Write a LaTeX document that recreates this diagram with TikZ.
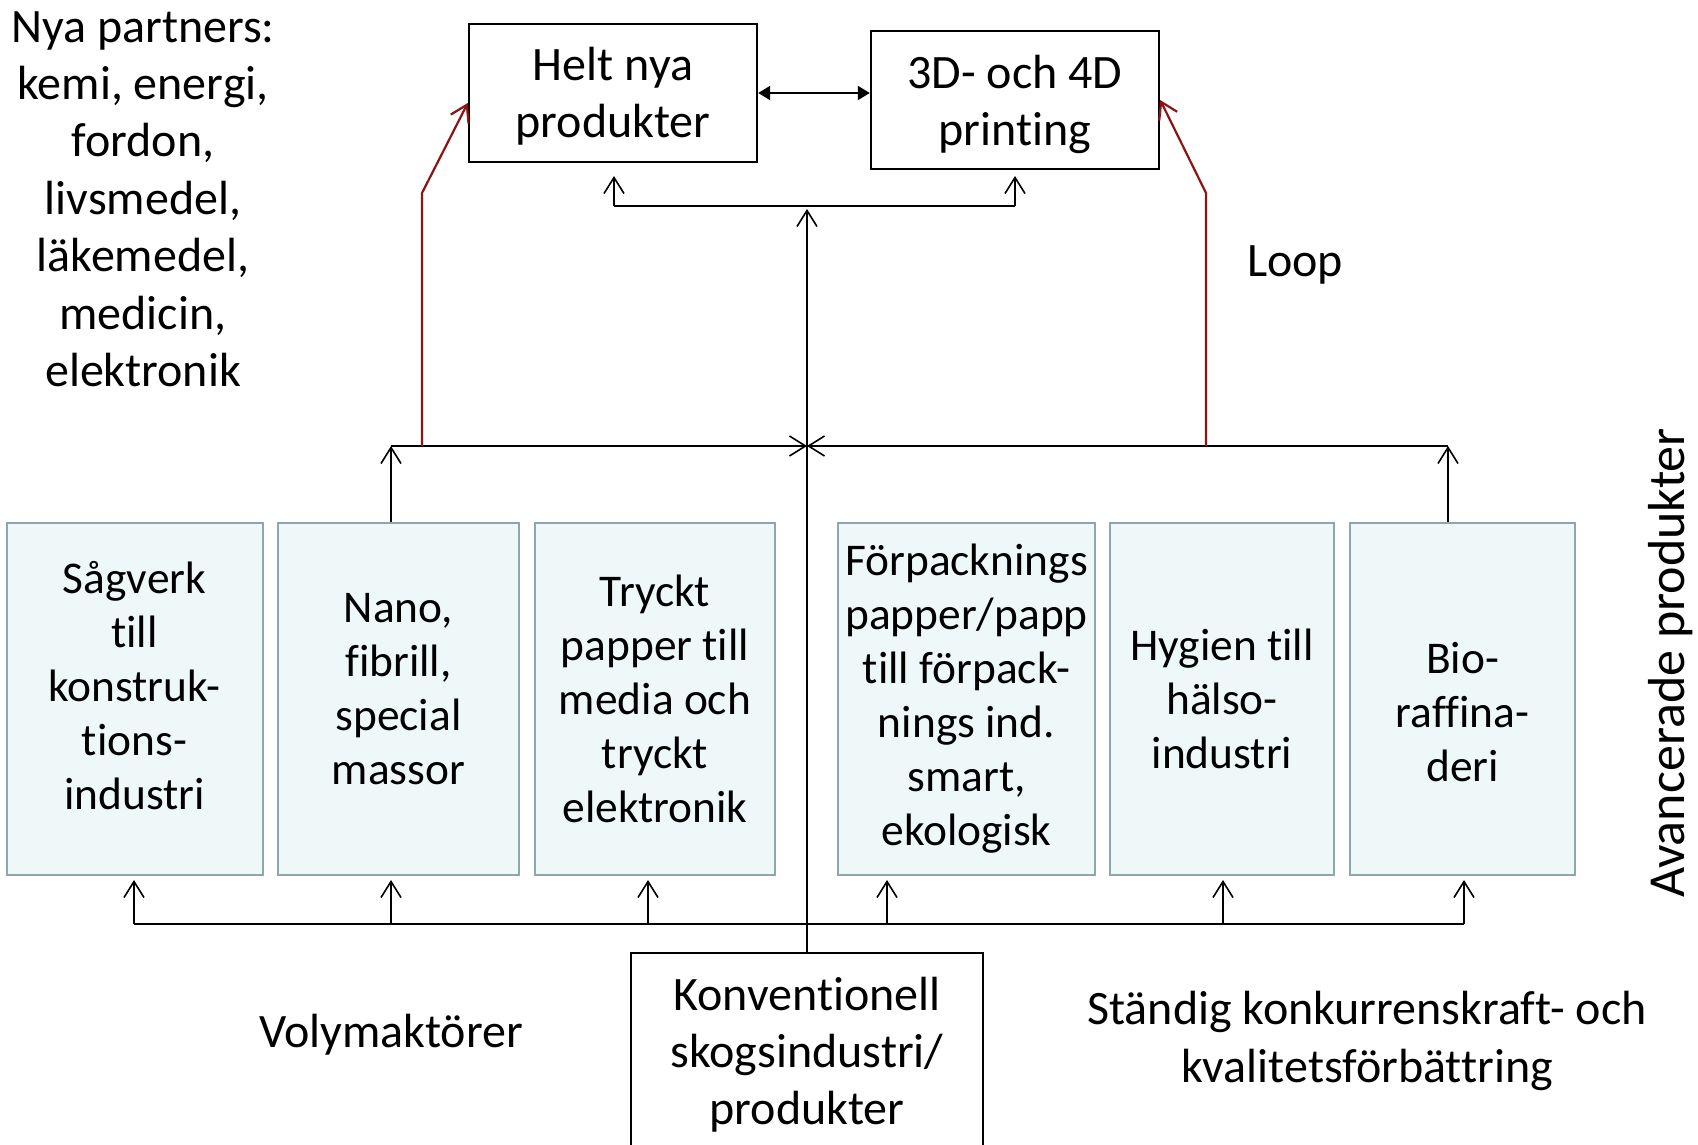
\documentclass[tikz,border=0pt]{standalone}
\usepackage{fontspec}
\setmainfont{Carlito}[Ligatures=NoCommon]
\usetikzlibrary{arrows.meta}
\definecolor{boxfill}{RGB}{239,248,248}
\definecolor{boxedge}{RGB}{142,167,172}
\definecolor{loopred}{RGB}{140,20,20}

\begin{document}
\begin{tikzpicture}[x=0.5pt,y=-0.5pt,
  every node/.style={font=\fontsize{24}{27}\selectfont, align=center, inner sep=0pt},
  sector/.style={draw=boxedge, fill=boxfill, line width=1pt, minimum height=176pt},
  sectortext/.style={font=\fontsize{22.7}{27}\selectfont},
  target/.style={draw, line width=1.2pt, minimum width=144pt, minimum height=69pt},
  targettext/.style={font=\fontsize{24}{28.5}\selectfont},
  conn/.style={line width=0.8pt, -{Straight Barb[length=8pt,width=10pt]}},
  loopline/.style={draw=loopred, line width=1.1pt, -{Straight Barb[length=8pt,width=10pt]}}]

\useasboundingbox (0,0) rectangle (1698,1145);

\node[target] (helt) at (613,93) {};
\node[target] (print) at (1015,100) {};
\node[targettext] (heltt) at (613,96) {Helt nya\\produkter};
\node[targettext] (printt) at (1015,104) {3D- och 4D\\printing};
\draw[line width=1pt, {Triangle[length=6pt,width=7pt]}-{Triangle[length=6pt,width=7pt]}] (helt.east) -- (helt.east -| print.west);

\node[sector, minimum width=128pt] (b1) at (134.5,699) {};
\node[sector, minimum width=120.5pt] (b2) at (398.5,699) {};
\node[sector, minimum width=120pt] (b3) at (655,699) {};
\node[sector, minimum width=128.5pt] (b4) at (966.5,699) {};
\node[sector, minimum width=112pt] (b5) at (1222,699) {};
\node[sector, minimum width=112.5pt] (b6) at (1462.5,699) {};
\node[sectortext] (t1) at ([yshift=6.5pt]b1) {Sågverk\\till\\konstruk-\\tions-\\industri};
\node[sectortext] (t2) at ([yshift=5pt]b2) {Nano,\\fibrill,\\special\\massor};
\node[sectortext] (t3) at (b3) {Tryckt\\papper till\\media och\\tryckt\\elektronik};
\node[sectortext] (t4) at (b4) {Förpacknings\\papper/papp\\till förpack-\\nings ind.\\smart,\\ekologisk};
\node[sectortext] (t5) at (b5) {Hygien till\\hälso-\\industri};
\node[sectortext] (t6) at ([yshift=-6.5pt]b6) {Bio-\\raffina-\\deri};

\node[draw, line width=1.2pt, minimum width=176pt, minimum height=99pt] (konv) at (807,1052) {};
\node[targettext] (konvt) at (807,1055) {Konventionell\\skogsindustri/\\produkter};

\coordinate (hub) at (807,446);
\coordinate (cl) at (391,446);
\coordinate (cr) at (1448,446);
\coordinate (top) at (807,209);
\coordinate (tl) at (614,206);
\coordinate (tr) at (1015,206);
\coordinate (rl) at (422,446);
\coordinate (rr) at (1206,446);

% upp till nya produkter
\draw[conn] (konv.north) -- (top);
\draw[line width=0.8pt] (tl) -- (tr);
\draw[conn] (tl) -- (614,176);
\draw[conn] (tr) -- (1015,176);

\draw[conn] (cl |- b2.north) -- (cl);
\draw[conn] (cr |- b6.north) -- (cr);
\draw[conn] (cl) -- (hub);
\draw[conn] (cr) -- (hub);

% loop
\draw[loopline] (rl) -- (422,193) -- ([yshift=-5pt]helt.west);
\draw[loopline] (rr) -- (1206,193) -- (print.east);

% volym
\coordinate (d1) at (134,924);
\coordinate (d2) at (391,924);
\coordinate (d3) at (648,924);
\coordinate (d4) at (887,924);
\coordinate (d5) at (1223,924);
\coordinate (d6) at (1464,924);
\draw[line width=0.8pt] (d1) -- (d6);
\draw[conn] (d1) -- ([yshift=-2pt]d1 |- b1.south);
\draw[conn] (d2) -- ([yshift=-2pt]d2 |- b2.south);
\draw[conn] (d3) -- ([yshift=-2pt]d3 |- b3.south);
\draw[conn] (d4) -- ([yshift=-2pt]d4 |- b4.south);
\draw[conn] (d5) -- ([yshift=-2pt]d5 |- b5.south);
\draw[conn] (d6) -- ([yshift=-2pt]d6 |- b6.south);

\node[font=\fontsize{24}{28.7}\selectfont] (partners) at (143,199) {Nya partners:\\kemi, energi,\\fordon,\\livsmedel,\\läkemedel,\\medicin,\\elektronik};
\node (looptext) at (1295,265) {Loop};
\node (volym) at (391,1035) {Volymaktörer};
\node[font=\fontsize{24}{29}\selectfont] (standig) at (1367,1041) {Ständig konkurrenskraft- och\\kvalitetsförbättring};
\node[rotate=90, font=\fontsize{26}{30}\selectfont] (avanc) at (1671,663) {Avancerade produkter};

\end{tikzpicture}
\end{document}
